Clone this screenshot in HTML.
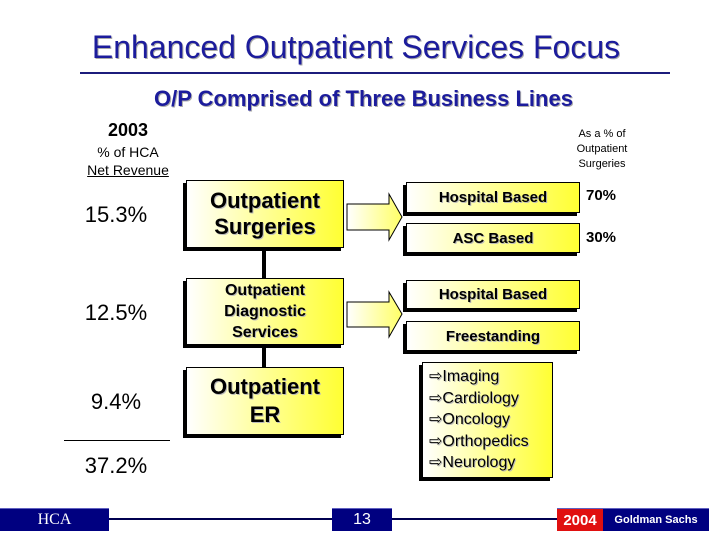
<!DOCTYPE html>
<html><head><meta charset="utf-8"><style>
body{margin:0;width:720px;height:540px;background:#fff;position:relative;overflow:hidden;font-family:"Liberation Sans",sans-serif}
div{position:absolute;box-sizing:border-box}
.t{text-align:center;white-space:nowrap}
.box{background:linear-gradient(90deg,#ffffff 0%,#ffffa0 45%,#ffff33 100%);border:1px solid #000;box-shadow:-3px 3px 0 #000;display:flex;align-items:center;justify-content:center;text-align:center;font-weight:bold;color:#000;text-shadow:1px 1px 0 #bbb}
.pct{font-size:22px;color:#000;text-align:center;width:120px;left:56px}
.nav{background:#000080;color:#fff;display:flex;align-items:center;justify-content:center;font-family:"Liberation Serif",serif;border-top:1px solid #6060c0}
</style></head><body>
<div class="t" style="left:0;width:712px;top:29px;font-size:32px;color:#1c1c9c;text-shadow:1px 1px 0 #aaa">Enhanced Outpatient Services Focus</div>
<div style="left:80px;top:72px;width:590px;height:2px;background:#1c1c7c"></div>
<div class="t" style="left:0;width:727px;top:86px;font-size:22px;font-weight:bold;color:#1c1c9c;text-shadow:1px 1px 0 #aaa">O/P Comprised of Three Business Lines</div>
<div class="t" style="left:78px;width:100px;top:120px;font-size:18px;font-weight:bold">2003</div>
<div class="t" style="left:68px;width:120px;top:143px;font-size:14px;line-height:18px">% of HCA<br><span style="text-decoration:underline">Net Revenue</span></div>
<div class="t" style="left:556px;width:92px;top:127px;font-size:11px;line-height:15px">As a % of<br>Outpatient<br>Surgeries</div>

<div class="pct" style="top:202px">15.3%</div>
<div class="pct" style="top:300px">12.5%</div>
<div class="pct" style="top:389px">9.4%</div>
<div style="left:64px;top:440px;width:106px;height:1px;background:#000"></div>
<div class="pct" style="top:453px">37.2%</div>

<div style="left:262px;top:246px;width:4px;height:124px;background:#000"></div>
<div class="box" style="left:186px;top:180px;width:158px;height:68px;font-size:22px;line-height:26px">Outpatient<br>Surgeries</div>
<div class="box" style="left:186px;top:278px;width:158px;height:67px;font-size:16px;line-height:21px">Outpatient<br>Diagnostic<br>Services</div>
<div class="box" style="left:186px;top:367px;width:158px;height:68px;font-size:22px;line-height:28px">Outpatient<br>ER</div>

<svg style="position:absolute;left:0;top:0" width="720" height="540">
<defs><linearGradient id="g" x1="0" x2="1"><stop offset="0" stop-color="#fff"/><stop offset="1" stop-color="#ffff66"/></linearGradient></defs>
<path d="M347 204 H389 V194 L402 217 L389 240 V230 H347 Z" fill="url(#g)" stroke="#000" stroke-width="1"/>
<path d="M347 302 H389 V292 L402 314 L389 337 V327 H347 Z" fill="url(#g)" stroke="#000" stroke-width="1"/>
</svg>

<div class="box" style="left:406px;top:182px;width:174px;height:31px;font-size:15px">Hospital Based</div>
<div class="box" style="left:406px;top:223px;width:174px;height:30px;font-size:15px">ASC Based</div>
<div class="t" style="left:586px;top:187px;font-size:15px;font-weight:bold">70%</div>
<div class="t" style="left:586px;top:229px;font-size:15px;font-weight:bold">30%</div>
<div class="box" style="left:406px;top:280px;width:174px;height:29px;font-size:15px">Hospital Based</div>
<div class="box" style="left:406px;top:321px;width:174px;height:30px;font-size:15px">Freestanding</div>
<div class="box" style="left:422px;top:362px;width:131px;height:116px;font-size:16px;font-weight:normal;line-height:21.5px;justify-content:flex-start;text-align:left;padding-left:6px">⇨Imaging<br>⇨Cardiology<br>⇨Oncology<br>⇨Orthopedics<br>⇨Neurology</div>

<div style="left:100px;top:518px;width:460px;height:2px;background:#000050"></div>
<div class="nav" style="left:0;top:508px;width:109px;height:23px;font-size:16px">HCA</div>
<div class="nav" style="left:332px;top:508px;width:60px;height:23px;font-size:16px;font-family:'Liberation Sans',sans-serif">13</div>
<div class="nav" style="left:557px;top:508px;width:46px;height:23px;font-size:15px;background:#e01010;font-family:'Liberation Sans',sans-serif;font-weight:bold">2004</div>
<div class="nav" style="left:603px;top:508px;width:106px;height:23px;font-size:11px;font-family:'Liberation Sans',sans-serif;font-weight:bold">Goldman Sachs</div>
</body></html>
